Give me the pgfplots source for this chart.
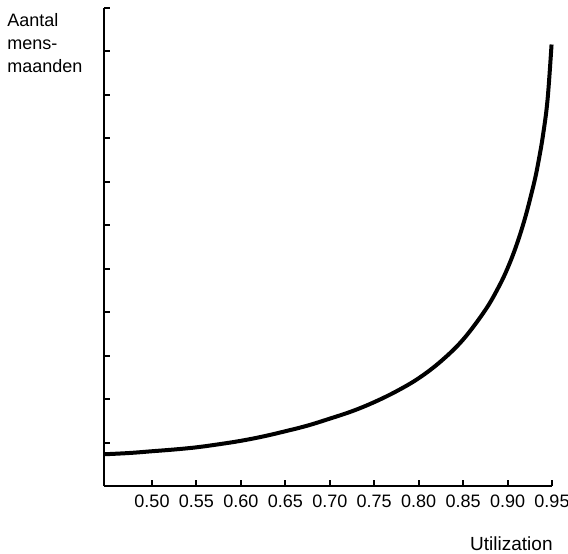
\documentclass[border=0pt]{standalone}
\usepackage{fontspec}
\setmainfont{Liberation Sans}
\usepackage{pgfplots}
\pgfplotsset{compat=1.18}
\begin{document}
\begin{tikzpicture}
\begin{axis}[
  name=ax,
  scale only axis,
  width=224pt, height=239pt,
  xmin=0.446, xmax=0.95,
  ymin=0, ymax=11,
  axis x line*=bottom, axis y line*=left,
  axis line style={line width=1pt, black},
  xtick={0.50,0.55,0.60,0.65,0.70,0.75,0.80,0.85,0.90,0.95},
  xticklabels={0.50,0.55,0.60,0.65,0.70,0.75,0.80,0.85,0.90,0.95},
  ytick={1,2,3,4,5,6,7,8,9,10,11},
  yticklabels={},
  tick align=inside,
  major tick length=3pt,
  tick style={line width=1pt, black},
  ticklabel style={font=\fontsize{9}{10}\selectfont},
  xticklabel style={yshift=-1pt},
  clip=false,
]
\addplot[black, line width=2pt, smooth, tension=0.6] coordinates {
(0.446,0.73) (0.475,0.76) (0.50,0.80) (0.525,0.84) (0.55,0.89) (0.575,0.96)
(0.60,1.04) (0.625,1.14) (0.65,1.26) (0.675,1.39) (0.70,1.55) (0.725,1.72)
(0.75,1.93) (0.775,2.18) (0.80,2.48) (0.825,2.87) (0.85,3.37) (0.875,4.05)
(0.89,4.58) (0.90,5.01) (0.91,5.54) (0.92,6.19) (0.93,6.99) (0.935,7.49)
(0.94,8.09) (0.945,8.89) (0.9495,10.16)
};
\end{axis}
\node[anchor=base east, font=\fontsize{9.5}{11}\selectfont, inner sep=0pt]
  at ([xshift=224.5pt,yshift=-32pt]ax.south west) {Utilization};
\node[anchor=north west, align=left, font=\fontsize{9}{11.5}\selectfont, inner sep=0pt]
  at ([xshift=-48.5pt,yshift=236.5pt]ax.south west) {Aantal\\mens-\\maanden};
\pgfresetboundingbox
\path ([xshift=-52pt,yshift=-33.5pt]ax.south west) rectangle ([xshift=232pt,yshift=243pt]ax.south west);
\end{tikzpicture}
\end{document}
